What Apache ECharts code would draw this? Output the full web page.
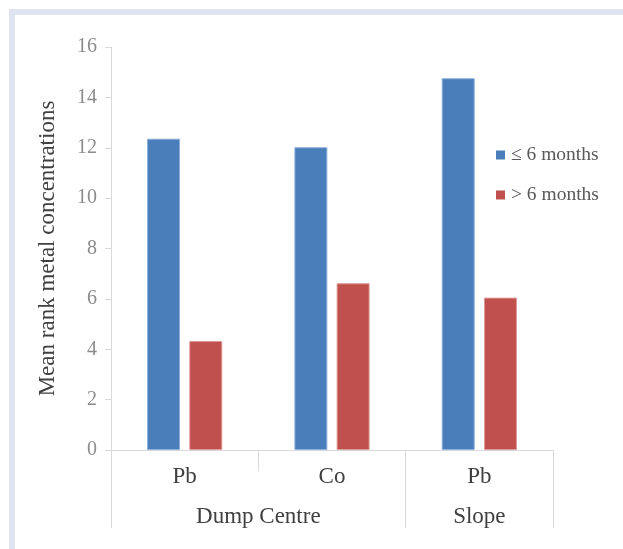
<!DOCTYPE html>
<html>
<head>
<meta charset="utf-8">
<script src="https://cdn.jsdelivr.net/npm/echarts@6/dist/echarts.min.js"></script>
<style>
  html, body { margin: 0; padding: 0; background: #fff; }
  #chart { width: 623px; height: 549px; }
</style>
</head>
<body>
<div id="chart"></div>
<script>
// Metals within each site group, and the site groups themselves
const metals = ['Pb', 'Co', 'Pb'];
const sites = ['Dump Centre', 'Slope'];
// Position of each site label along the group axis (in category units) and group edges
const sitePositions = [1, 2.5];
const groupEdges = [0, 2, 3];

// Mean rank metal concentrations by exposure time
const shortExposure = [12.36, 12.02, 14.76];
const longExposure = [4.33, 6.62, 6.05];

const yTicks = { min: 0, max: 16, interval: 2 };

const serif = 'Liberation Serif, Times New Roman, serif';
const lineColor = '#d9d9d9';

const chart = echarts.init(document.getElementById('chart'));
chart.setOption({
  animation: false,
  backgroundColor: '#ffffff',
  graphic: [
    { type: 'rect', shape: { x: 9, y: 9, width: 614, height: 6 }, style: { fill: '#e0e4f1' } },
    { type: 'rect', shape: { x: 9, y: 9, width: 6, height: 540 }, style: { fill: '#e0e4f1' } }
  ],
  grid: { left: 111, right: 70, top: 47, bottom: 99, containLabel: false },
  legend: {
    orient: 'vertical',
    left: 496,
    top: 145,
    padding: 0,
    itemWidth: 9,
    itemHeight: 9,
    itemGap: 20,
    icon: 'rect',
    itemStyle: { borderWidth: 0 },
    textStyle: { fontFamily: serif, fontSize: 19.5, color: '#595959', padding: [0, 0, 0, 1] },
    data: ['≤ 6 months', '> 6 months']
  },
  xAxis: [
    {
      type: 'category',
      data: metals,
      position: 'bottom',
      axisLine: { show: true, lineStyle: { color: lineColor, width: 1 } },
      axisTick: { show: true, length: 21, lineStyle: { color: lineColor } },
      axisLabel: { fontFamily: serif, fontSize: 23, color: '#404040', margin: 15 }
    },
    {
      type: 'value',
      min: 0,
      max: 3,
      position: 'bottom',
      axisLine: { show: false },
      splitLine: { show: false },
      axisTick: { show: true, length: 78, customValues: groupEdges, lineStyle: { color: lineColor } },
      axisLabel: {
        fontFamily: serif, fontSize: 23, color: '#404040', margin: 55,
        customValues: sitePositions,
        formatter: function (v) { return sites[sitePositions.indexOf(v)] || ''; }
      }
    }
  ],
  yAxis: {
    type: 'value',
    min: yTicks.min,
    max: yTicks.max,
    interval: yTicks.interval,
    name: 'Mean rank metal concentrations',
    nameLocation: 'middle',
    nameGap: 52,
    nameTextStyle: { fontFamily: serif, fontSize: 23, color: '#404040' },
    axisLine: { show: true, lineStyle: { color: lineColor } },
    axisTick: { show: true, length: 6, lineStyle: { color: lineColor } },
    splitLine: { show: false },
    axisLabel: { fontFamily: serif, fontSize: 20, color: '#8c8c8c', margin: 14 }
  },
  series: [
    {
      name: '≤ 6 months',
      type: 'bar',
      xAxisIndex: 0,
      data: shortExposure,
      barWidth: 33,
      barGap: '28%',
      itemStyle: { color: '#4a7ebb', borderColor: '#8fb0da', borderWidth: 1 }
    },
    {
      name: '> 6 months',
      type: 'bar',
      xAxisIndex: 0,
      data: longExposure,
      barWidth: 33,
      barGap: '28%',
      itemStyle: { color: '#c0504d', borderColor: '#dd9a98', borderWidth: 1 }
    }
  ]
});
</script>
</body>
</html>
